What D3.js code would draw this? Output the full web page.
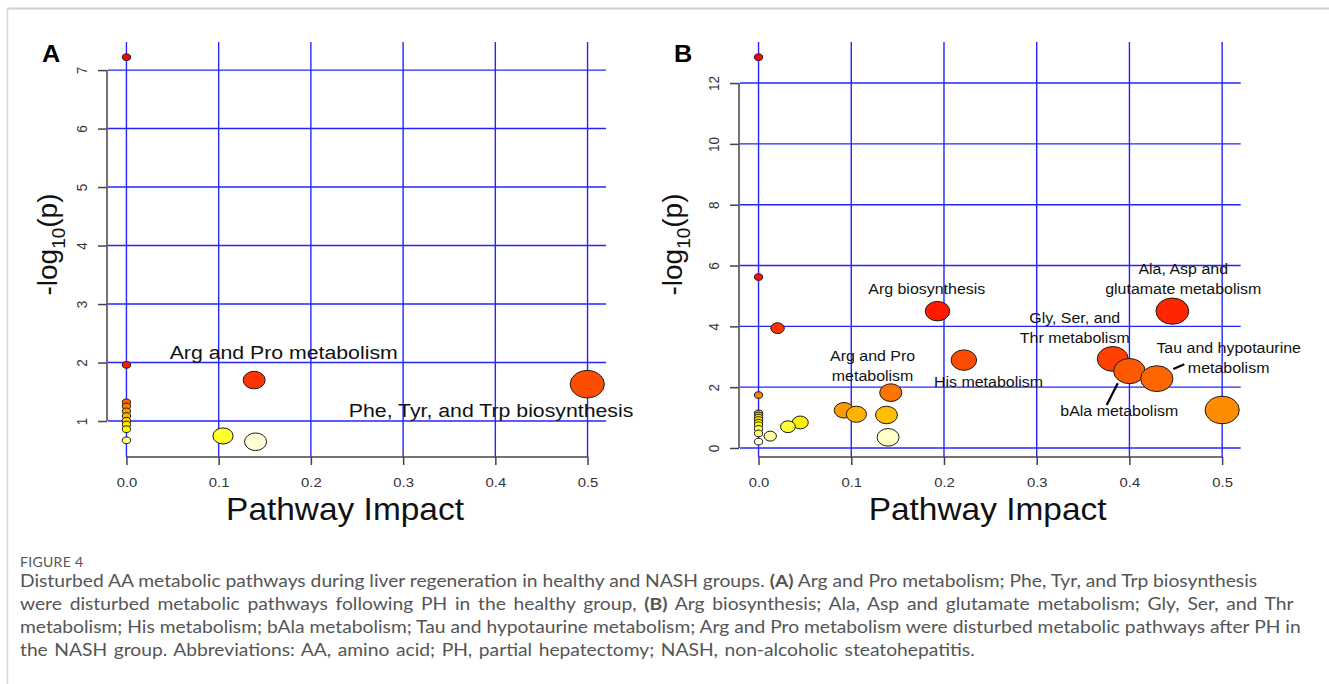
<!DOCTYPE html>
<html>
<head>
<meta charset="UTF-8">
<style>
  body { margin: 0; background: #fff; }
  svg { display: block; font-family: "Liberation Sans", Arial, sans-serif; }
  .cap { font-family: Lato, "Open Sans", sans-serif; fill: #555; }
</style>
</head>
<body>
<svg id="chart" width="1329" height="684"></svg>
<script src="https://d3js.org/d3.v7.min.js"></script>
<script>
// ---- panel A: healthy group (pathway impact, -log10 p) ----
const impactA = [0, 0, 0.1385, 0.4997, 0, 0, 0, 0, 0, 0, 0, 0.1047, 0, 0.14];
const logpA   = [7.22, 1.96, 1.70, 1.63, 1.32, 1.25, 1.165, 1.085, 1.005, 0.94, 0.86, 0.745, 0.67, 0.646];
const yTicksA = [1, 2, 3, 4, 5, 6, 7];

// ---- panel B: NASH group ----
const impactB = [0, 0, 0, 0, 0, 0, 0, 0, 0, 0, 0, 0,
                 0.0205, 0.0126, 0.0317, 0.045, 0.0921, 0.1055, 0.1426, 0.138, 0.1397,
                 0.193, 0.2214, 0.382, 0.40, 0.4295, 0.4463, 0.5];
const logpB   = [12.85, 5.62, 1.74, 1.14, 1.07, 1.0, 0.92, 0.83, 0.75, 0.63, 0.48, 0.21,
                 3.94, 0.39, 0.70, 0.84, 1.24, 1.11, 1.82, 1.085, 0.35,
                 4.50, 2.89, 2.93, 2.53, 2.28, 4.50, 1.25];
const yTicksB = [0, 2, 4, 6, 8, 10, 12];

const xTicks = [0, 0.1, 0.2, 0.3, 0.4, 0.5];

// pathway labels, anchored in data units (centre, baseline of first line)
const labelsA = [
  { lines: ["Arg and Pro metabolism"], x: 0.1705, y: 2.06 },
  { lines: ["Phe, Tyr, and Trp biosynthesis"], x: 0.3954, y: 1.068 }
];
const labelsB = [
  { lines: ["Arg biosynthesis"], x: 0.1814, y: 5.05 },
  { lines: ["Arg and Pro", "metabolism"], x: 0.123, y: 2.86 },
  { lines: ["His metabolism"], x: 0.248, y: 2.015 },
  { lines: ["Gly, Ser, and", "Thr metabolism"], x: 0.341, y: 4.12 },
  { lines: ["Ala, Asp and", "glutamate metabolism"], x: 0.458, y: 5.72 },
  { lines: ["Tau and hypotaurine", "metabolism"], x: 0.507, y: 3.13 },
  { lines: ["bAla metabolism"], x: 0.389, y: 1.06 }
];
const leadersB = [
  [[0.3874, 2.127], [0.3755, 1.413]],
  [[0.4474, 2.597], [0.4592, 2.751]]
];

const captionLines = [
  [["Disturbed AA metabolic pathways during liver regeneration in healthy and NASH groups. "], ["(A)", 1], [" Arg and Pro metabolism; Phe, Tyr, and Trp biosynthesis"]],
  [["were disturbed metabolic pathways following PH in the healthy group, "], ["(B)", 1], [" Arg biosynthesis; Ala, Asp and glutamate metabolism; Gly, Ser, and Thr"]],
  [["metabolism; His metabolism; bAla metabolism; Tau and hypotaurine metabolism; Arg and Pro metabolism were disturbed metabolic pathways after PH in"]],
  [["the NASH group. Abbreviations: AA, amino acid; PH, partial hepatectomy; NASH, non-alcoholic steatohepatitis."]]
];
const captionWordSpacing = [0, 2.6, 0, 1.5];

const W = 1329, H = 684;
const plotTop = 42, plotBottom = 457;
const svg = d3.select("#chart");

// frame of the figure box
svg.append("line").attr("x1", 7).attr("x2", W).attr("y1", 8.5).attr("y2", 8.5)
  .attr("stroke", "#cfcfcf").attr("stroke-width", 2);
svg.append("line").attr("x1", 7.5).attr("x2", 7.5).attr("y1", 8).attr("y2", H)
  .attr("stroke", "#d6d6d6").attr("stroke-width", 1.5);

// R heat.colors(n)
function heatColors(n) {
  const j = Math.floor(n / 4), i = n - j;
  const out = [];
  for (let k = 0; k < i; k++) {
    const h = i > 1 ? k / (i - 1) : 0;           // 0..1 over 0..60 deg
    out.push(d3.rgb(255, Math.round(255 * h), 0).formatHex());
  }
  for (let k = 0; k < j; k++) {
    const s0 = 1 - 1 / (2 * j), s1 = 1 / (2 * j);
    const s = j > 1 ? s0 + (s1 - s0) * k / (j - 1) : s0;
    out.push(d3.rgb(255, 255, Math.round(255 * (1 - s))).formatHex());
  }
  return out;
}

const rScale = d3.scaleSqrt().domain([0, 0.5]).range([3.3, 13.7]);
const aspect = 1.25;

function stext(g, x, y, str, size, sx) {
  return g.append("text")
    .attr("transform", `translate(${x},${y}) scale(${sx},1)`)
    .attr("font-size", size)
    .text(str);
}

const panels = [
  { letter: "A", impact: impactA, logp: logpA, yTicks: yTicksA, yDomain: [0.385, 7.48],
    left: 108, right: 606, labels: labelsA, leaders: [], labSize: 19, labSx: 1.12, lineH: 20,
    ylabOff: 58, xlabAt: 0.237 },
  { letter: "B", impact: impactB, logp: logpB, yTicks: yTicksB, yDomain: [-0.296, 13.35],
    left: 740, right: 1240.7, labels: labelsB, leaders: leadersB, labSize: 15.5, labSx: 1.03, lineH: 19.8,
    ylabOff: 65, xlabAt: 0.247 }
];

panels.forEach(p => {
  const x = d3.scaleLinear().domain([-0.02, 0.52]).range([p.left, p.right]);
  const y = d3.scaleLinear().domain(p.yDomain).range([plotBottom, plotTop]);
  const g = svg.append("g");

  // grid
  g.selectAll("line.vg").data(xTicks).join("line").attr("class", "vg")
    .attr("x1", d => x(d)).attr("x2", d => x(d)).attr("y1", plotTop).attr("y2", plotBottom)
    .attr("stroke", "#2424ff").attr("stroke-width", 1.4);
  g.selectAll("line.hg").data(p.yTicks).join("line").attr("class", "hg")
    .attr("x1", p.left).attr("x2", p.right).attr("y1", d => y(d)).attr("y2", d => y(d))
    .attr("stroke", "#2424ff").attr("stroke-width", 1.4);

  // x axis
  const xa = g.append("g").attr("transform", `translate(0,${plotBottom})`)
    .call(d3.axisBottom(x).tickValues(xTicks).tickSize(8).tickFormat(d3.format(".1f")));
  xa.select(".domain").remove();
  xa.append("line").attr("x1", x(xTicks[0])).attr("x2", x(xTicks[xTicks.length - 1]))
    .attr("stroke", "#444").attr("stroke-width", 1.5);
  xa.selectAll(".tick line").attr("stroke", "#444").attr("stroke-width", 1.5);
  xa.selectAll(".tick text").attr("y", null).attr("dy", null)
    .attr("transform", "translate(0,30) scale(1.1,1)")
    .attr("font-size", 13.5).attr("font-family", "Liberation Sans, Arial").attr("fill", "#333");

  // y axis
  const ya = g.append("g").attr("transform", `translate(${p.left - 1},0)`)
    .call(d3.axisLeft(y).tickValues(p.yTicks).tickSize(9).tickFormat(d3.format("d")));
  ya.select(".domain").remove();
  ya.append("line").attr("y1", y(d3.min(p.yTicks))).attr("y2", y(d3.max(p.yTicks)))
    .attr("stroke", "#444").attr("stroke-width", 1.5);
  ya.selectAll(".tick line").attr("stroke", "#444").attr("stroke-width", 1.5);
  ya.selectAll(".tick text").attr("x", null).attr("dy", "0.35em")
    .attr("text-anchor", "middle")
    .attr("transform", "translate(-25,0) scale(1.1,1) rotate(-90)")
    .attr("font-size", 13.5).attr("font-family", "Liberation Sans, Arial").attr("fill", "#333");

  // bubbles, drawn from lowest p upwards like MetaboAnalyst
  const pts = p.impact.map((v, i) => ({ impact: v, logp: p.logp[i] }))
    .sort((a, b) => b.logp - a.logp);
  const cols = heatColors(pts.length);
  g.selectAll("ellipse").data(pts).join("ellipse")
    .attr("cx", d => x(d.impact)).attr("cy", d => y(d.logp))
    .attr("rx", d => rScale(d.impact) * aspect).attr("ry", d => rScale(d.impact))
    .attr("fill", (d, i) => cols[i]).attr("stroke", "#1a1a1a").attr("stroke-width", 1);

  // leader lines
  p.leaders.forEach(l => {
    g.append("line").attr("x1", x(l[0][0])).attr("y1", y(l[0][1]))
      .attr("x2", x(l[1][0])).attr("y2", y(l[1][1]))
      .attr("stroke", "#000").attr("stroke-width", 2.2);
  });

  // pathway labels
  p.labels.forEach(lb => {
    lb.lines.forEach((s, k) => {
      stext(g, x(lb.x), y(lb.y) + k * p.lineH, s, p.labSize, p.labSx)
        .attr("text-anchor", "middle").attr("fill", "#111");
    });
  });

  // axis titles
  stext(g, x(p.xlabAt), 520, "Pathway Impact", 32, 1.045)
    .attr("text-anchor", "middle").attr("fill", "#111");
  const cy = (plotTop + plotBottom) / 2 - 5;
  const yl = g.append("text")
    .attr("transform", `translate(${p.left - p.ylabOff},${cy}) rotate(-90)`)
    .attr("y", 0.26 * 28).attr("text-anchor", "middle")
    .attr("font-size", 28).attr("fill", "#111");
  yl.append("tspan").text("-log");
  yl.append("tspan").attr("font-size", 19).attr("dy", 8).text("10");
  yl.append("tspan").attr("dy", -8).text("(p)");

  // panel letter
  stext(g, p.left - 66, 61.7, p.letter, 23, 1.1)
    .attr("font-weight", "bold").attr("fill", "#000");
});

// caption
svg.append("text").attr("class", "cap").attr("x", 20).attr("y", 567)
  .attr("font-size", 14).attr("letter-spacing", 0.3).attr("fill", "#666").text("FIGURE 4");
captionLines.forEach((segs, i) => {
  const t = svg.append("text").attr("class", "cap")
    .attr("transform", `translate(20,${587 + i * 23}) scale(1.1,1)`)
    .attr("font-size", 17.5)
    .attr("word-spacing", captionWordSpacing[i]);
  segs.forEach(s => {
    t.append("tspan").attr("font-weight", s[1] ? "bold" : null).text(s[0]);
  });
});
</script>
</body>
</html>
